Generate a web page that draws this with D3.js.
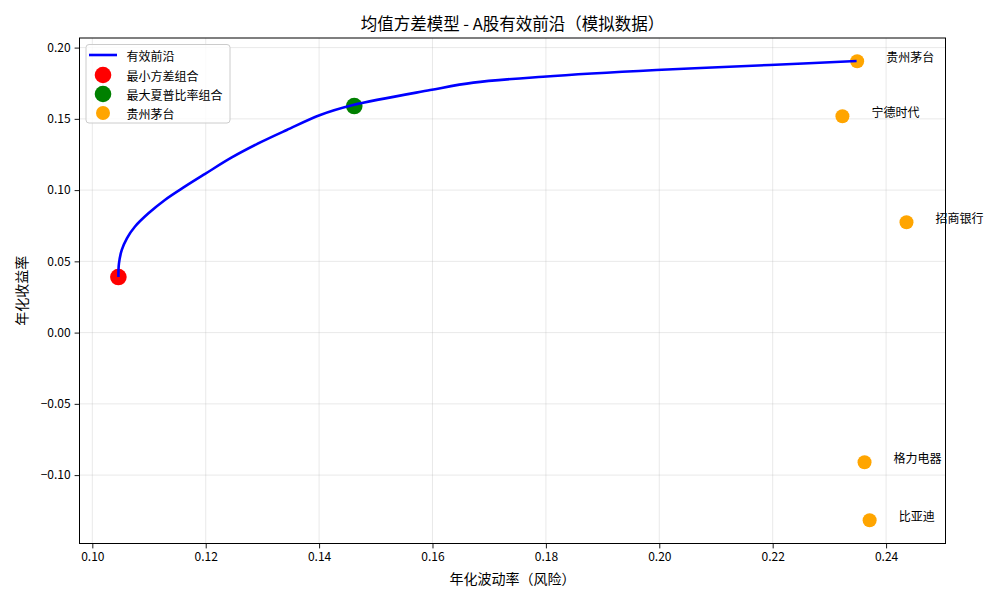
<!DOCTYPE html>
<html>
<head>
<meta charset="utf-8">
<script src="https://cdn.jsdelivr.net/npm/d3@7"></script>
<style>
  html, body { margin: 0; padding: 0; background: #fff; }
  svg text { font-family: "Noto Sans CJK SC", "Noto Sans", sans-serif; fill: #000; }
</style>
</head>
<body>
<svg id="chart" width="1000" height="600"></svg>
<script>
// ---- data ----
const frontierVol = [0.1046, 0.1047, 0.1052, 0.1061, 0.1075, 0.1099, 0.1128, 0.1163, 0.1199, 0.1246, 0.1299, 0.1343, 0.1402, 0.1460, 0.1596, 0.1672, 0.1795, 0.1995, 0.2195, 0.2348];
const frontierRet = [0.0390, 0.0486, 0.0580, 0.0662, 0.0743, 0.0837, 0.0931, 0.1024, 0.1114, 0.1229, 0.1340, 0.1422, 0.1527, 0.1597, 0.1702, 0.1754, 0.1796, 0.1843, 0.1878, 0.1906];

const specialNames = ["最小方差组合", "最大夏普比率组合"];
const specialVol = [0.1046, 0.1462];
const specialRet = [0.0390, 0.1590];
const specialColors = ["#ff0000", "#008000"];

const stockNames = ["贵州茅台", "宁德时代", "招商银行", "格力电器", "比亚迪"];
const stockVol = [0.2349, 0.2323, 0.2436, 0.2362, 0.2371];
const stockRet = [0.1904, 0.1518, 0.0774, -0.0910, -0.1317];

const xTicks = [0.10, 0.12, 0.14, 0.16, 0.18, 0.20, 0.22, 0.24];
const yTicks = [-0.10, -0.05, 0.00, 0.05, 0.10, 0.15, 0.20];

const legendLabels = ["有效前沿", "最小方差组合", "最大夏普比率组合", "贵州茅台"];

const titleText = "均值方差模型 - A股有效前沿（模拟数据）";
const xLabel = "年化波动率（风险）";
const yLabel = "年化收益率";

// ---- layout ----
const L = 79.5, R = 945.5, T = 38, B = 543.5;
const svg = d3.select("#chart");

const x = d3.scaleLinear().domain([0.09774, 0.25048]).range([L, R]);
const y = d3.scaleLinear().domain([-0.1480, 0.20674]).range([B, T]);

const fmt = v => {
  const s = Math.abs(v).toFixed(2);
  return (v < -1e-9 ? "\u2212" : "") + s;
};

// grid
const grid = svg.append("g");
grid.selectAll("line.gx").data(xTicks).join("line")
  .attr("x1", d => x(d)).attr("x2", d => x(d)).attr("y1", T).attr("y2", B)
  .attr("stroke", "#b0b0b0").attr("stroke-opacity", 0.35).attr("stroke-width", 0.8);
grid.selectAll("line.gy").data(yTicks).join("line")
  .attr("y1", d => y(d)).attr("y2", d => y(d)).attr("x1", L).attr("x2", R)
  .attr("stroke", "#b0b0b0").attr("stroke-opacity", 0.35).attr("stroke-width", 0.8);

// scatter: special portfolios
svg.append("g").selectAll("circle").data(specialNames).join("circle")
  .attr("cx", (d, i) => x(specialVol[i]))
  .attr("cy", (d, i) => y(specialRet[i]))
  .attr("r", 8.3)
  .attr("fill", (d, i) => specialColors[i]);

// scatter: stocks
svg.append("g").selectAll("circle").data(stockNames).join("circle")
  .attr("cx", (d, i) => x(stockVol[i]))
  .attr("cy", (d, i) => y(stockRet[i]))
  .attr("r", 7)
  .attr("fill", "#ffa500");

// frontier line
const pts = frontierVol.map((v, i) => [v, frontierRet[i]]);
svg.append("path")
  .datum(pts)
  .attr("d", d3.line().x(d => x(d[0])).y(d => y(d[1])).curve(d3.curveCatmullRom.alpha(0.5)))
  .attr("fill", "none")
  .attr("stroke", "#0000ff")
  .attr("stroke-width", 2.6);

// stock labels
svg.append("g").selectAll("text").data(stockNames).join("text")
  .attr("x", (d, i) => x(stockVol[i]) + 29)
  .attr("y", (d, i) => y(stockRet[i]) - 4.5)
  .attr("dominant-baseline", "central")
  .attr("font-size", 12)
  .text(d => d);

// axes
const xAxis = svg.append("g").attr("transform", `translate(0,${B})`)
  .call(d3.axisBottom(x).tickValues(xTicks).tickFormat(fmt).tickSize(4.9).tickPadding(4));
const yAxis = svg.append("g").attr("transform", `translate(${L},0)`)
  .call(d3.axisLeft(y).tickValues(yTicks).tickFormat(fmt).tickSize(4.9).tickPadding(4));
[xAxis, yAxis].forEach(a => {
  a.select(".domain").remove();
  a.selectAll("line").attr("stroke", "#000").attr("stroke-width", 0.9);
  a.selectAll("text").attr("font-size", 12).attr("fill", "#000")
    .style("font-family", '"Noto Sans CJK SC", sans-serif');
});

// frame
svg.append("rect").attr("x", L).attr("y", T).attr("width", R - L).attr("height", B - T)
  .attr("fill", "none").attr("stroke", "#000").attr("stroke-width", 1);

// title & labels
svg.append("text").attr("x", (L + R) / 2).attr("y", 23).attr("text-anchor", "middle")
  .attr("dominant-baseline", "central").attr("font-size", 16.5).text(titleText);
svg.append("text").attr("x", (L + R) / 2).attr("y", 578).attr("text-anchor", "middle")
  .attr("dominant-baseline", "central").attr("font-size", 14).text(xLabel);
svg.append("text").attr("transform", `translate(21,${(T + B) / 2}) rotate(-90)`)
  .attr("text-anchor", "middle").attr("dominant-baseline", "central")
  .attr("font-size", 14).text(yLabel);

// legend
const lg = svg.append("g");
lg.append("rect").attr("x", 86).attr("y", 44.5).attr("width", 144).attr("height", 78.5)
  .attr("rx", 3).attr("fill", "#fff").attr("fill-opacity", 0.8)
  .attr("stroke", "#cccccc").attr("stroke-width", 1);
const rowY = [55, 75, 94, 113];
lg.append("line").attr("x1", 89).attr("x2", 117).attr("y1", rowY[0]).attr("y2", rowY[0])
  .attr("stroke", "#0000ff").attr("stroke-width", 2.6);
lg.append("circle").attr("cx", 103).attr("cy", rowY[1]).attr("r", 8.3).attr("fill", specialColors[0]);
lg.append("circle").attr("cx", 103).attr("cy", rowY[2]).attr("r", 8.3).attr("fill", specialColors[1]);
lg.append("circle").attr("cx", 103).attr("cy", rowY[3]).attr("r", 7).attr("fill", "#ffa500");
lg.selectAll("text").data(legendLabels).join("text")
  .attr("x", 126.5).attr("y", (d, i) => rowY[i])
  .attr("dominant-baseline", "central").attr("font-size", 12).text(d => d);
</script>
</body>
</html>
